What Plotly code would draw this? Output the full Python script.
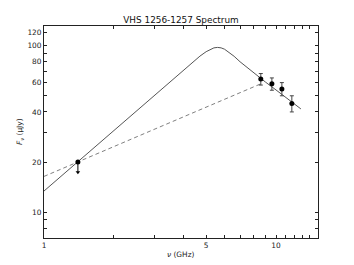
import numpy as np
import plotly.graph_objects as go

# Detections (GHz, uJy) with errors
det_freq = [8.6, 9.6, 10.6, 11.7]
det_flux = [63, 59, 55, 45]
det_err = [5, 5, 5, 5]

# Upper limit at 1.4 GHz
lim_freq = [1.4]
lim_flux = [20]
lim_arrow_end = [17.4]

# Solid model curve
model_freq = [1.0, 2.0, 3.0, 4.0, 4.4, 4.7, 5.0, 5.2, 5.4, 5.6, 5.8, 6.0, 6.3, 6.6, 7.0, 8.0, 9.0, 10.0, 11.0, 12.0, 12.8]
model_flux = [13.4, 31, 50.7, 71.5, 80, 86.5, 92, 95, 97, 97.6, 97, 95.2, 91, 86.3, 80, 68.5, 60.5, 54.2, 48.8, 44.5, 41.7]

# Dashed power-law line
pl_freq = [1.0, 8.6]
pl_flux = [16.4, 59]

x_major = [1, 5, 10]
x_minor = [2, 3, 4, 6, 7, 8, 9, 11, 12, 13, 14]
y_major = [10, 20, 40, 60, 80, 100, 120]
y_minor = [8, 9, 30, 50, 70, 90]

FONT = "DejaVu Sans"
W, H = 354, 265
ML, MR, MT, MB = 44, 36, 26, 27
PW, PH = W - ML - MR, H - MT - MB

fig = go.Figure()

fig.add_trace(go.Scatter(x=model_freq, y=model_flux, mode="lines",
                         line=dict(color="#555555", width=1),
                         hoverinfo="skip", showlegend=False))
fig.add_trace(go.Scatter(x=pl_freq, y=pl_flux, mode="lines",
                         line=dict(color="#808080", width=1, dash="4px,3px"),
                         hoverinfo="skip", showlegend=False))
fig.add_trace(go.Scatter(x=lim_freq * 2, y=lim_flux + lim_arrow_end, mode="lines",
                         line=dict(color="black", width=1), showlegend=False))
fig.add_trace(go.Scatter(x=lim_freq, y=lim_arrow_end, mode="markers",
                         marker=dict(symbol="triangle-down", size=4, color="black"),
                         showlegend=False))
fig.add_trace(go.Scatter(x=lim_freq, y=lim_flux, mode="markers",
                         marker=dict(symbol="circle", size=5, color="black"),
                         showlegend=False))
fig.add_trace(go.Scatter(x=det_freq, y=det_flux, mode="markers",
                         marker=dict(symbol="circle", size=5, color="black"),
                         error_y=dict(type="data", array=det_err, color="#444444",
                                      thickness=1, width=2),
                         showlegend=False))

fig.update_layout(
    width=W, height=H,
    margin=dict(l=ML, r=MR, t=MT, b=MB, autoexpand=False),
    paper_bgcolor="white", plot_bgcolor="white",
    font=dict(family=FONT, size=7.4, color="#222222"),
    title=dict(text="VHS 1256-1257 Spectrum", x=0.5, xref="paper",
               y=1 - 20 / H, yref="container", yanchor="middle",
               font=dict(family=FONT, size=8.9, color="#111111")),
    annotations=[
        dict(text="<i>ν</i> (GHz)", xref="paper", yref="paper",
             x=0.5, y=-16 / PH, xanchor="center", yanchor="middle",
             showarrow=False, font=dict(family=FONT, size=7.4, color="#222222")),
        dict(text="<i>F</i><sub><i>ν</i></sub> (μJy)", xref="paper", yref="paper",
             x=(20 - ML) / PW, y=0.5, xanchor="center", yanchor="middle", textangle=-90,
             showarrow=False, font=dict(family=FONT, size=7.4, color="#222222")),
    ],
)
common = dict(ticks="inside", ticklen=3, tickwidth=1, tickcolor="#222",
              mirror="ticks", showline=True, linecolor="#222", linewidth=1,
              showgrid=False, zeroline=False, automargin=False)
fig.update_xaxes(type="log", range=[0, 1.181],
                 tickmode="array", tickvals=x_major, ticktext=[str(v) for v in x_major],
                 minor=dict(tickmode="array", tickvals=x_minor, ticks="inside",
                            ticklen=3, tickwidth=1, tickcolor="#222", showgrid=False),
                 **common)
fig.update_yaxes(type="log", range=[np.log10(7.0), 2.118],
                 tickmode="array", tickvals=y_major, ticktext=[str(v) for v in y_major],
                 minor=dict(tickmode="array", tickvals=y_minor, ticks="inside",
                            ticklen=3, tickwidth=1, tickcolor="#222", showgrid=False),
                 **common)

fig.write_html("out.html",
               config={"displayModeBar": False, "staticPlot": True},
               post_script="document.documentElement.style.margin='0';"
                           "document.body.style.margin='0';"
                           "document.body.style.overflow='hidden';")
